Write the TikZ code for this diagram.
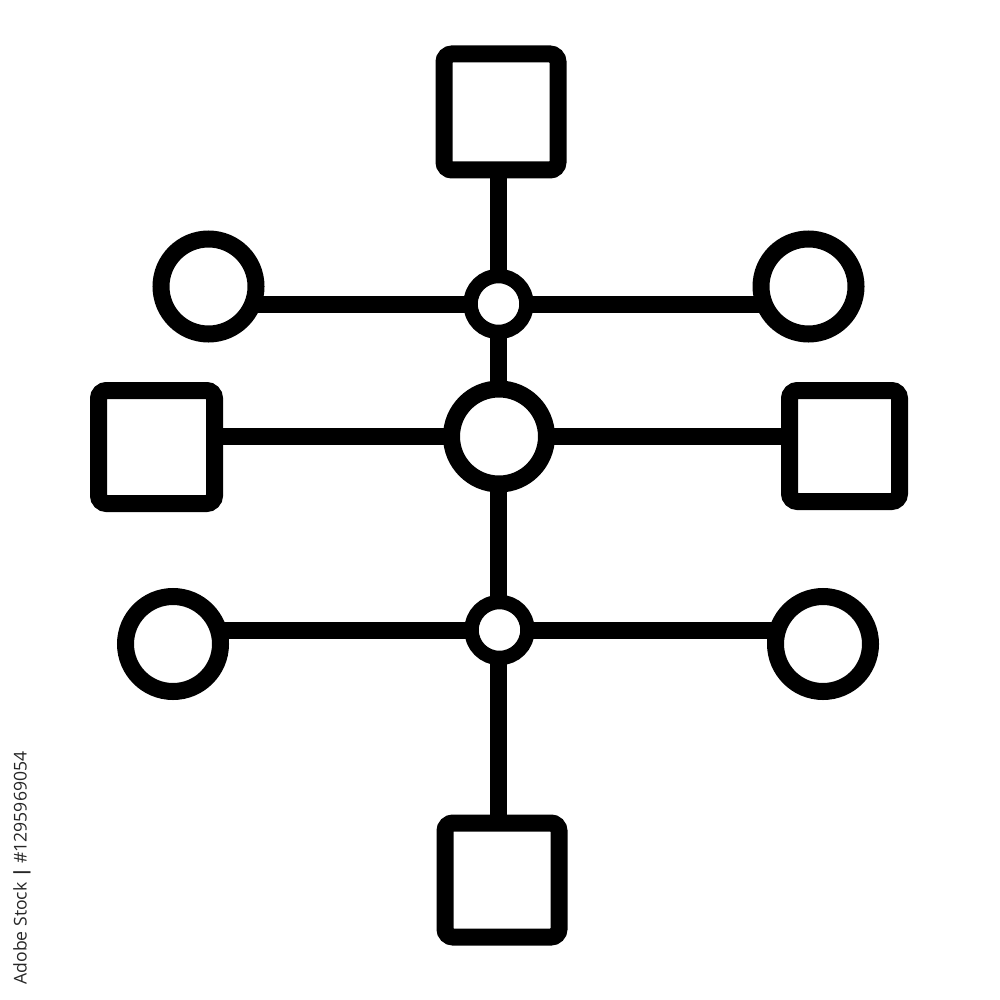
\documentclass[tikz,border=0pt]{standalone}
\usepackage{fontspec}
\newfontfamily\wmfont{Open Sans}
\usetikzlibrary{backgrounds}
\begin{document}
\begin{tikzpicture}[x=1pt,y=-1pt,
  box/.style={draw=black,fill=white,line width=17pt,rounded corners=8pt,rectangle,inner sep=0pt},
  ring/.style={draw=black,fill=white,line width=17pt,circle,inner sep=0pt,minimum size=95pt},
  joint/.style={draw=black,fill=white,line width=14.5pt,circle,inner sep=0pt,minimum size=56pt},
  link/.style={line width=17pt,draw=black}]
\useasboundingbox (0,0) rectangle (1000,1000);
% central column
\node[box,minimum width=114pt,minimum height=116pt] (top) at (501,112) {};
\node[joint] (j1) at (498.5,304) {};
\node[ring] (mid) at (499,436.5) {};
\node[joint] (j3) at (499.5,630) {};
\node[box,minimum width=114pt,minimum height=114pt] (bot) at (502,880) {};
% row 1
\node[ring] (lc1) at (208.5,286.5) {};
\node[ring] (rc1) at (808.5,286.5) {};
% row 2
\node[box,minimum width=116pt,minimum height=113pt] (ls2) at (156.5,447) {};
\node[box,minimum width=110pt,minimum height=111pt] (rs2) at (844.5,446) {};
% row 3
\node[ring] (lc3) at (173,644) {};
\node[ring] (rc3) at (823,644) {};
\begin{scope}[on background layer]
  \draw[link] (j1.center |- top.center) -- (j1.center |- bot.center);
  \draw[link] (lc1.center |- j1.center) -- (rc1.center |- j1.center);
  \draw[link] (ls2.center |- mid.center) -- (rs2.center |- mid.center);
  \draw[link] (lc3.center |- j3.center) -- (rc3.center |- j3.center);
\end{scope}
\node[rotate=90,text=black!85,font=\wmfont\fontsize{17.6}{20}\selectfont,inner sep=0pt] (wm) at (22,868) {Adobe Stock \textbf{|} \#1295969054};
\end{tikzpicture}
\end{document}
